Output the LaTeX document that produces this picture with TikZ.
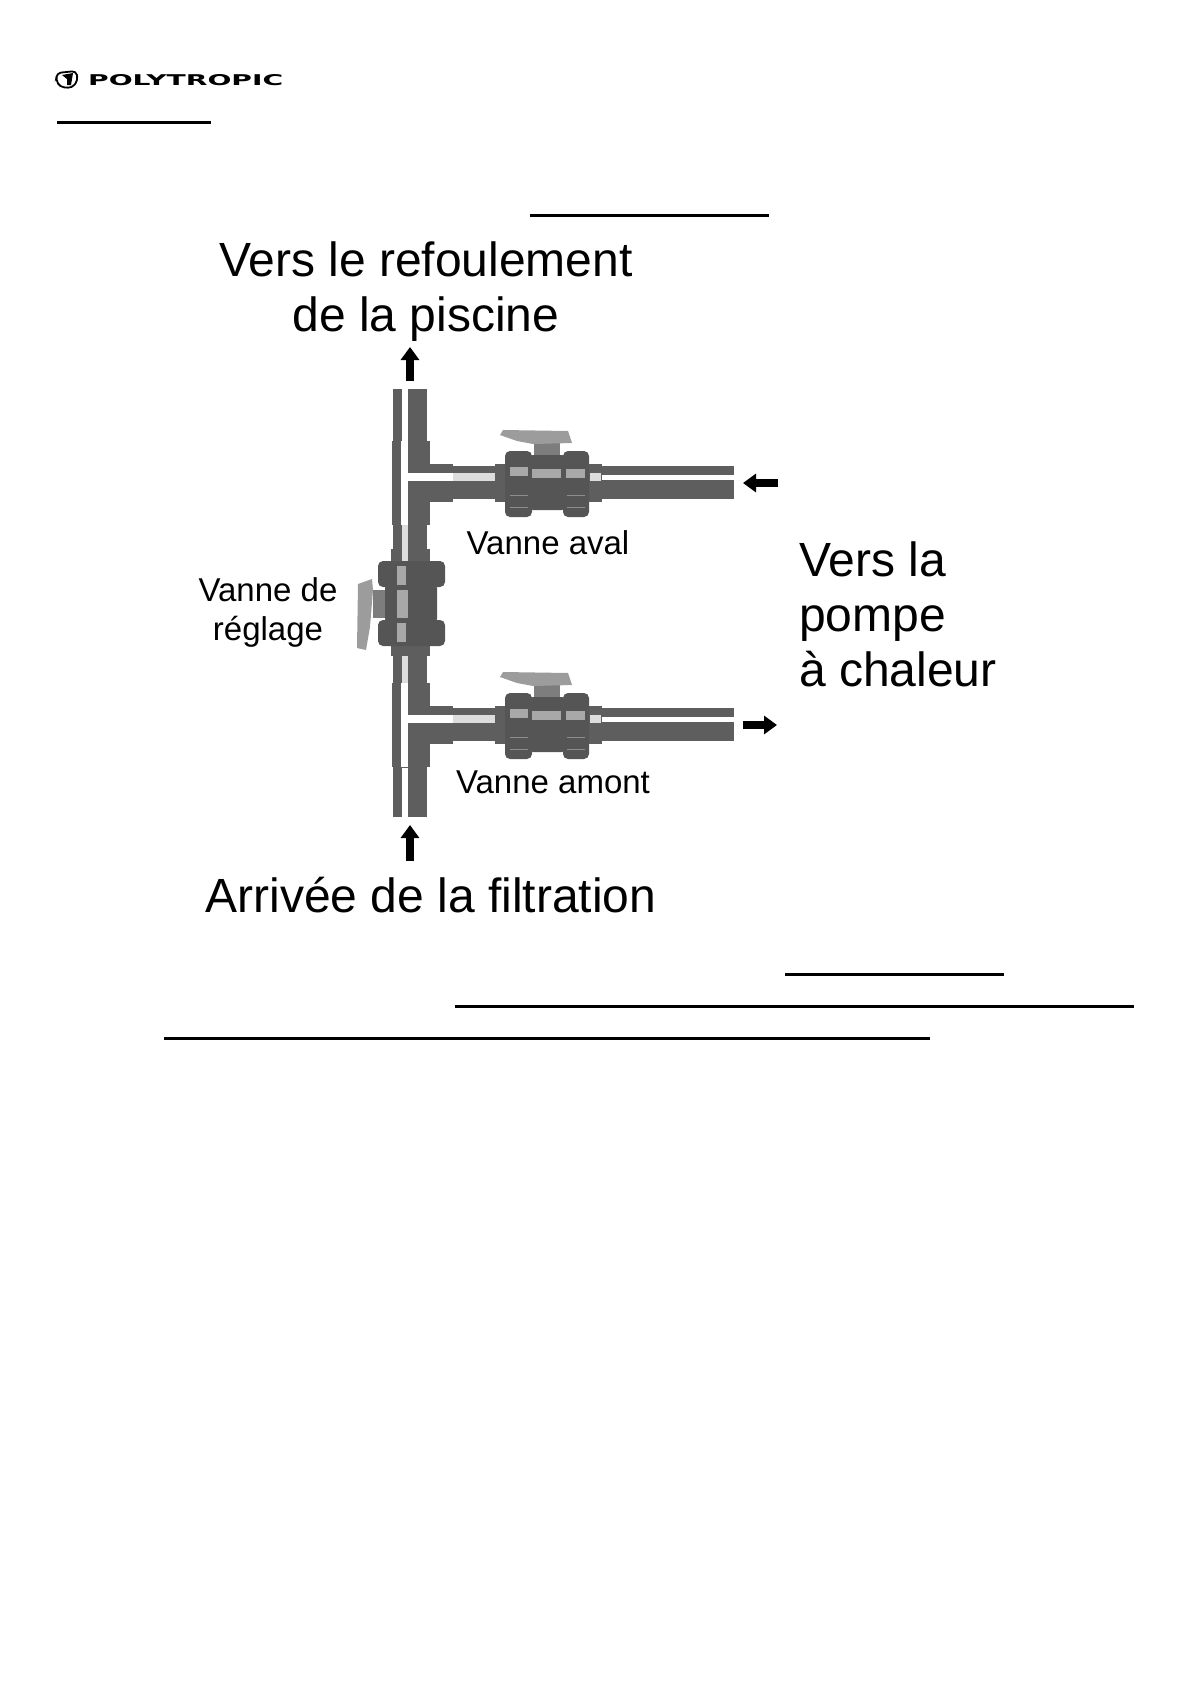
\documentclass[tikz,border=0pt]{standalone}
\usepackage{fontspec}
\usepackage{graphicx}
\setmainfont{Liberation Sans}
\newfontfamily\logofont{DejaVu Sans}
\usetikzlibrary{arrows.meta}
\definecolor{pipegrey}{HTML}{5E5E5E}
\definecolor{darkgrey}{HTML}{555555}
\definecolor{handlegrey}{HTML}{9C9C9C}
\definecolor{stemgrey}{HTML}{7D7D7D}
\definecolor{sheen}{HTML}{A8A8A8}
\definecolor{pale}{HTML}{DDDDDD}

\begin{document}
\begin{tikzpicture}[
  x=1pt,y=-1pt,
  pipe/.style={fill=pipegrey,draw=none},
  body/.style={fill=darkgrey,draw=none,rounded corners=5pt},
  stripe/.style={fill=white,draw=none},
  gloss/.style={fill=sheen,draw=none},
  handle/.style={fill=handlegrey,draw=none},
  stem/.style={fill=stemgrey,draw=none},
  rib/.style={draw=pipegrey!70!white,line width=0.7pt},
  rule/.style={line width=3pt},
  flow/.style={line width=8pt,-{Triangle[length=13pt,width=18pt]}},
  big/.style={font=\fontsize{48}{55}\selectfont,align=center,inner sep=0pt},
  small/.style={font=\fontsize{33}{39}\selectfont,align=center,inner sep=0pt}]
  \useasboundingbox (0,0) rectangle (1190,1684);
  % logo
  \draw[line width=1.8pt,rounded corners=4pt,fill=white] (57,73) -- (76,71) -- (78,80) -- (72,88) -- (60,87) -- (56,80) -- cycle;
  \fill (62,75) -- (73,73) -- (71,85) -- (67,85) -- (67,79) -- cycle;
  \node[inner sep=0pt,anchor=west] (logo) at (88,80.5) {\resizebox{195pt}{11pt}{\logofont\bfseries POLYTROPIC}};
  % main pipe
  \fill[pipe] (393,389) rectangle (427,817);
  \fill[stripe] (402,389) rectangle (408,441);
  \fill[stripe] (402,768) rectangle (408,817);
  \fill[pale] (402,525) rectangle (408,549);
  \fill[pale] (402,656) rectangle (408,683);
  % both branches
  \foreach \dy in {0,242}{
    \begin{scope}[shift={(0,\dy)}]
      \fill[pipe] (392,441) rectangle (430,525);
      \fill[pipe] (430,464) rectangle (453,502);
      \fill[pipe] (453,466) rectangle (734,499);
      \fill[stripe] (401,441) rectangle (408,525);
      \fill[stripe] (408,473) rectangle (453,481);
      \fill[pale] (453,473) rectangle (495,481);
      \fill[stripe] (602,475) rectangle (734,480);
      % valve
      \fill[stem] (534,442) rectangle (560,456);
      \fill[pipe] (495,464) rectangle (602,502);
      \fill[body] (528,455) rectangle (567,510);
      \fill[body] (505,451) rectangle (532,517);
      \fill[body] (563,451) rectangle (589,517);
      \fill[gloss] (510,467) rectangle (528,476);
      \fill[gloss] (532,469) rectangle (561,478);
      \fill[gloss] (566,469) rectangle (585,478);
      \fill[pale] (590,473) rectangle (601,481);
      \draw[rib] (510,495) -- (528,495);
      \draw[rib] (510,507) -- (528,507);
      \draw[rib] (567,495) -- (585,495);
      \draw[rib] (567,507) -- (585,507);
      \fill[handle] (500,435) -- (503,430) -- (568,431) -- (572,443) -- (533,444) -- (517,441) -- cycle;
    \end{scope}
  }
  % adjusting valve
  \fill[pipe] (391,549) rectangle (430,656);
  \fill[stem] (373,590) rectangle (385,618);
  \fill[body] (385,583) rectangle (437,624);
  \fill[body] (378,561) rectangle (445,587);
  \fill[body] (378,620) rectangle (445,646);
  \fill[gloss] (397,566) rectangle (406,585);
  \fill[gloss] (397,590) rectangle (408,618);
  \fill[gloss] (397,623) rectangle (406,642);
  \fill[pale] (402,549) rectangle (408,561);
  \fill[handle] (358,584) -- (372,579) -- (373,590) -- (370,627) -- (366,650) -- (357,648) -- cycle;
  % flow arrows
  \coordinate (upA) at (410,381);
  \coordinate (upB) at (410,347);
  \coordinate (inA) at (778,483);
  \coordinate (inB) at (743,483);
  \coordinate (outA) at (743,725);
  \coordinate (outB) at (777,725);
  \coordinate (feedA) at (410,861);
  \coordinate (feedB) at (410,825);
  \draw[flow] (upA) -- (upB);
  \draw[flow] (inA) -- (inB);
  \draw[flow] (outA) -- (outB);
  \draw[flow] (feedA) -- (feedB);
  % labels
  \node[big] (refoul) at (426,292) {Vers le refoulement\\de la piscine};
  \node[big,align=left,anchor=west] (pac) at (799,614) {Vers la\\pompe\\à chaleur};
  \node[big] (filt) at (431,895) {Arrivée de la filtration};
  \node[small] (aval) at (548,543) {Vanne aval};
  \node[small] (amont) at (553,782) {Vanne amont};
  \node[small] (reglage) at (268,612) {Vanne de\\réglage};
  % underlines of the page text
  \draw[rule] (57,122) -- (211,122);
  \draw[rule] (530,215) -- (769,215);
  \draw[rule] (785,974) -- (1004,974);
  \draw[rule] (455,1006) -- (1134,1006);
  \draw[rule] (164,1038) -- (930,1038);
\end{tikzpicture}
\end{document}
